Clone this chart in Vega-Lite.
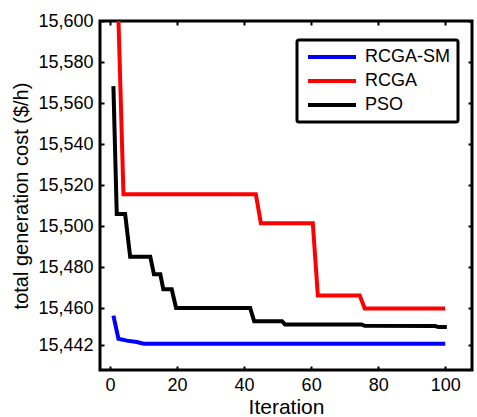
{
  "$schema": "https://vega.github.io/schema/vega-lite/v6.json",
  "width": 372,
  "height": 349,
  "autosize": {"type": "none"},
  "padding": {"left": 100, "top": 21, "right": 5, "bottom": 47},
  "background": "white",
  "config": {
    "font": "Liberation Sans",
    "view": {"stroke": "black", "strokeWidth": 3},
    "axis": {
      "domain": false,
      "grid": false,
      "labelFont": "Liberation Sans",
      "labelFontSize": 18,
      "labelColor": "black",
      "tickColor": "black",
      "tickWidth": 2,
      "tickSize": 4,
      "offset": -4,
      "titleFont": "Liberation Sans",
      "titleFontWeight": "normal",
      "titleColor": "black"
    }
  },
  "data": {
    "values": [
      {"algo": "RCGA-SM", "iter": 1, "cost": 15456.5},
      {"algo": "RCGA-SM", "iter": 2.5, "cost": 15445.2},
      {"algo": "RCGA-SM", "iter": 5, "cost": 15444.3},
      {"algo": "RCGA-SM", "iter": 8, "cost": 15443.6},
      {"algo": "RCGA-SM", "iter": 10, "cost": 15442.8},
      {"algo": "RCGA-SM", "iter": 100, "cost": 15442.8},
      {"algo": "RCGA", "iter": 2, "cost": 15630},
      {"algo": "RCGA", "iter": 4, "cost": 15515.6},
      {"algo": "RCGA", "iter": 43.5, "cost": 15515.6},
      {"algo": "RCGA", "iter": 45, "cost": 15501.5},
      {"algo": "RCGA", "iter": 60.5, "cost": 15501.5},
      {"algo": "RCGA", "iter": 62, "cost": 15466.3},
      {"algo": "RCGA", "iter": 74.5, "cost": 15466.3},
      {"algo": "RCGA", "iter": 76, "cost": 15460},
      {"algo": "RCGA", "iter": 100, "cost": 15460},
      {"algo": "PSO", "iter": 1, "cost": 15568.3},
      {"algo": "PSO", "iter": 2, "cost": 15506},
      {"algo": "PSO", "iter": 4.5, "cost": 15506},
      {"algo": "PSO", "iter": 6, "cost": 15485.2},
      {"algo": "PSO", "iter": 12, "cost": 15485.2},
      {"algo": "PSO", "iter": 13.1, "cost": 15476.6},
      {"algo": "PSO", "iter": 15, "cost": 15476.6},
      {"algo": "PSO", "iter": 15.9, "cost": 15469.3},
      {"algo": "PSO", "iter": 18.4, "cost": 15469.3},
      {"algo": "PSO", "iter": 19.7, "cost": 15460.2},
      {"algo": "PSO", "iter": 41.8, "cost": 15460.2},
      {"algo": "PSO", "iter": 43, "cost": 15453.8},
      {"algo": "PSO", "iter": 51.3, "cost": 15453.8},
      {"algo": "PSO", "iter": 52.2, "cost": 15452.2},
      {"algo": "PSO", "iter": 75, "cost": 15452.2},
      {"algo": "PSO", "iter": 76, "cost": 15451.5},
      {"algo": "PSO", "iter": 97, "cost": 15451.4},
      {"algo": "PSO", "iter": 98, "cost": 15450.9},
      {"algo": "PSO", "iter": 100.5, "cost": 15450.9}
    ]
  },
  "layer": [
    {
      "mark": {"type": "line", "strokeWidth": 4, "clip": true},
      "encoding": {
        "x": {
          "field": "iter", "type": "quantitative",
          "scale": {"domain": [-3, 108], "nice": false, "zero": false},
          "axis": {"orient": "bottom", "values": [0, 20, 40, 60, 80, 100], "labelPadding": 6, "title": "Iteration", "titleFontSize": 21, "titlePadding": 2}
        },
        "y": {
          "field": "cost", "type": "quantitative",
          "scale": {"domain": [15430, 15600], "nice": false, "zero": false},
          "axis": {"orient": "left", "values": [15442, 15460, 15480, 15500, 15520, 15540, 15560, 15580, 15600], "format": ",d", "labelPadding": 7, "title": "total generation cost ($/h)", "titleFontSize": 20, "titlePadding": 6}
        },
        "color": {
          "field": "algo", "type": "nominal",
          "scale": {"domain": ["RCGA-SM", "RCGA", "PSO"], "range": ["#0000ff", "#ff0000", "#000000"]},
          "legend": {
            "orient": "none", "legendX": 197, "legendY": 19, "title": null,
            "strokeColor": "black", "fillColor": "white", "padding": 8, "cornerRadius": 2,
            "symbolType": "M-4,0H4", "symbolStrokeWidth": 4, "symbolSize": 144, "symbolOffset": 18,
            "labelFontSize": 18, "labelColor": "black", "labelOffset": 24, "rowPadding": 6,
            "encode": {"legend": {"update": {"strokeWidth": {"value": 3}}}}
          }
        }
      }
    },
    {
      "mark": {"type": "line", "opacity": 0},
      "encoding": {
        "x": {"field": "iter", "type": "quantitative", "axis": {"orient": "top", "values": [0, 20, 40, 60, 80, 100], "labels": false, "title": null}},
        "y": {"field": "cost", "type": "quantitative", "axis": {"orient": "right", "values": [15442, 15460, 15480, 15500, 15520, 15540, 15560, 15580, 15600], "labels": false, "title": null}},
        "detail": {"field": "algo"}
      }
    }
  ],
  "resolve": {"axis": {"x": "independent", "y": "independent"}}
}
